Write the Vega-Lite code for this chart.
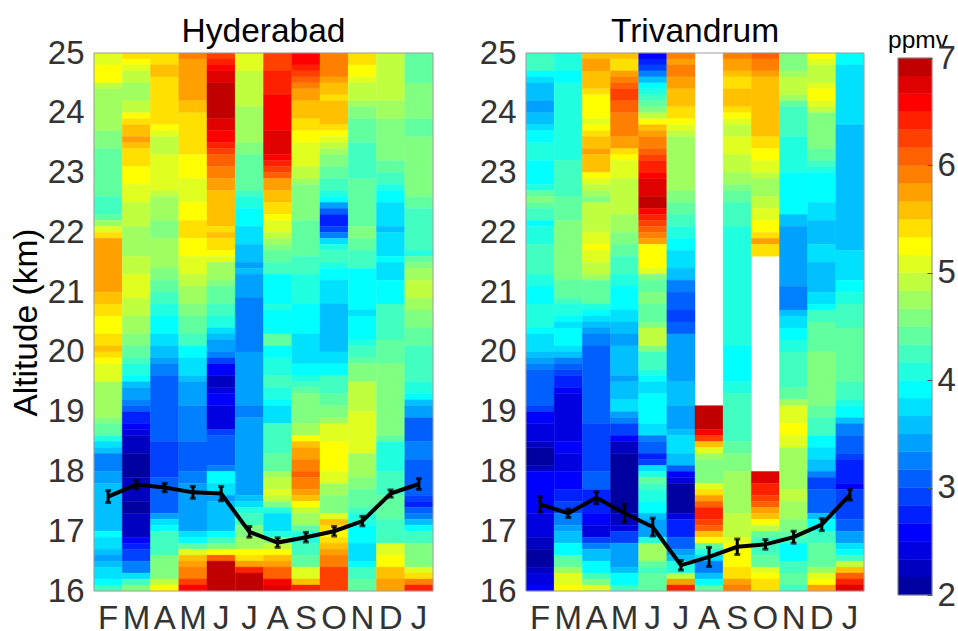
{"$schema":"https://vega.github.io/schema/vega-lite/v6.json","background":"white","padding":{"left":9,"top":14,"right":0,"bottom":0},"spacing":23,"config":{"view":{"stroke":null},"font":"Liberation Sans","title":{"font":"Liberation Sans","fontSize":33.5,"fontWeight":"normal","color":"#000000"},"axis":{"labelFont":"Liberation Sans","labelFontSize":33,"labelColor":"#333333","titleFont":"Liberation Sans","titleFontSize":33.5,"titleFontWeight":"normal","titleColor":"#000000"}},
"datasets":{
"frame":[{"a":16,"b":25}],
"hyd":[
{"m":1,"a":25,"b":24.8,"v":5.08},{"m":1,"a":24.8,"b":24.5,"v":5.25},{"m":1,"a":24.5,"b":24.4,"v":4.92},{"m":1,"a":24.4,"b":23.7,"v":4.75},{"m":1,"a":23.7,"b":23.4,"v":4.58},{"m":1,"a":23.4,"b":22.6,"v":4.42},{"m":1,"a":22.6,"b":22.3,"v":4.25},{"m":1,"a":22.3,"b":22.2,"v":4.42},{"m":1,"a":22.2,"b":22.1,"v":4.75},{"m":1,"a":22.1,"b":22,"v":5.08},{"m":1,"a":22,"b":21.9,"v":5.42},{"m":1,"a":21.9,"b":21,"v":5.75},{"m":1,"a":21,"b":20.8,"v":5.58},{"m":1,"a":20.8,"b":20.6,"v":5.42},{"m":1,"a":20.6,"b":20.3,"v":5.25},{"m":1,"a":20.3,"b":20.1,"v":5.42},{"m":1,"a":20.1,"b":20,"v":5.58},{"m":1,"a":20,"b":19.9,"v":5.42},{"m":1,"a":19.9,"b":19.8,"v":5.25},{"m":1,"a":19.8,"b":19.5,"v":5.08},{"m":1,"a":19.5,"b":18.9,"v":4.75},{"m":1,"a":18.9,"b":18.8,"v":4.58},{"m":1,"a":18.8,"b":18.6,"v":4.42},{"m":1,"a":18.6,"b":18.5,"v":4.08},{"m":1,"a":18.5,"b":18.4,"v":3.75},{"m":1,"a":18.4,"b":18.3,"v":3.58},{"m":1,"a":18.3,"b":18,"v":3.25},{"m":1,"a":18,"b":17.8,"v":3.42},{"m":1,"a":17.8,"b":17,"v":3.58},{"m":1,"a":17,"b":16.9,"v":3.92},{"m":1,"a":16.9,"b":16.7,"v":3.75},{"m":1,"a":16.7,"b":16.6,"v":3.58},{"m":1,"a":16.6,"b":16.5,"v":3.42},{"m":1,"a":16.5,"b":16.4,"v":3.58},{"m":1,"a":16.4,"b":16.2,"v":3.75},{"m":1,"a":16.2,"b":16.1,"v":3.92},{"m":1,"a":16.1,"b":16,"v":4.25},
{"m":2,"a":25,"b":24.9,"v":5.42},{"m":2,"a":24.9,"b":24.8,"v":5.25},{"m":2,"a":24.8,"b":24.7,"v":5.08},{"m":2,"a":24.7,"b":24.5,"v":4.92},{"m":2,"a":24.5,"b":24.2,"v":4.75},{"m":2,"a":24.2,"b":24,"v":4.92},{"m":2,"a":24,"b":23.9,"v":5.25},{"m":2,"a":23.9,"b":23.8,"v":5.42},{"m":2,"a":23.8,"b":23.6,"v":5.58},{"m":2,"a":23.6,"b":23.5,"v":5.75},{"m":2,"a":23.5,"b":23.4,"v":5.58},{"m":2,"a":23.4,"b":23.1,"v":5.42},{"m":2,"a":23.1,"b":22.8,"v":5.25},{"m":2,"a":22.8,"b":22.5,"v":5.08},{"m":2,"a":22.5,"b":22.1,"v":4.92},{"m":2,"a":22.1,"b":21.6,"v":4.75},{"m":2,"a":21.6,"b":21.3,"v":4.92},{"m":2,"a":21.3,"b":20.9,"v":5.08},{"m":2,"a":20.9,"b":20.6,"v":4.92},{"m":2,"a":20.6,"b":20.3,"v":4.75},{"m":2,"a":20.3,"b":20.1,"v":4.58},{"m":2,"a":20.1,"b":19.9,"v":4.42},{"m":2,"a":19.9,"b":19.8,"v":4.25},{"m":2,"a":19.8,"b":19.6,"v":4.08},{"m":2,"a":19.6,"b":19.5,"v":3.92},{"m":2,"a":19.5,"b":19.4,"v":3.58},{"m":2,"a":19.4,"b":19.2,"v":3.42},{"m":2,"a":19.2,"b":19.1,"v":3.25},{"m":2,"a":19.1,"b":19,"v":3.08},{"m":2,"a":19,"b":18.8,"v":2.75},{"m":2,"a":18.8,"b":18.7,"v":2.58},{"m":2,"a":18.7,"b":18.6,"v":2.42},{"m":2,"a":18.6,"b":18.3,"v":2.25},{"m":2,"a":18.3,"b":17.9,"v":2.08},{"m":2,"a":17.9,"b":17.5,"v":2.25},{"m":2,"a":17.5,"b":17.3,"v":2.08},{"m":2,"a":17.3,"b":16.9,"v":2.25},{"m":2,"a":16.9,"b":16.8,"v":2.58},{"m":2,"a":16.8,"b":16.7,"v":2.75},{"m":2,"a":16.7,"b":16.5,"v":2.92},{"m":2,"a":16.5,"b":16.3,"v":3.25},{"m":2,"a":16.3,"b":16.2,"v":3.75},{"m":2,"a":16.2,"b":16.1,"v":4.25},{"m":2,"a":16.1,"b":16,"v":4.58},
{"m":3,"a":25,"b":24.8,"v":5.42},{"m":3,"a":24.8,"b":24.6,"v":5.58},{"m":3,"a":24.6,"b":23.8,"v":5.42},{"m":3,"a":23.8,"b":23.7,"v":5.25},{"m":3,"a":23.7,"b":23.6,"v":5.08},{"m":3,"a":23.6,"b":23.3,"v":4.92},{"m":3,"a":23.3,"b":22.7,"v":5.08},{"m":3,"a":22.7,"b":22.6,"v":4.92},{"m":3,"a":22.6,"b":22.2,"v":4.75},{"m":3,"a":22.2,"b":21.9,"v":4.58},{"m":3,"a":21.9,"b":21.4,"v":4.75},{"m":3,"a":21.4,"b":21.2,"v":4.58},{"m":3,"a":21.2,"b":21,"v":4.42},{"m":3,"a":21,"b":20.8,"v":4.25},{"m":3,"a":20.8,"b":20.6,"v":4.08},{"m":3,"a":20.6,"b":20.3,"v":3.92},{"m":3,"a":20.3,"b":20.1,"v":3.75},{"m":3,"a":20.1,"b":19.9,"v":3.58},{"m":3,"a":19.9,"b":19.8,"v":3.42},{"m":3,"a":19.8,"b":19.6,"v":3.25},{"m":3,"a":19.6,"b":18.5,"v":3.08},{"m":3,"a":18.5,"b":17.9,"v":2.92},{"m":3,"a":17.9,"b":17.3,"v":3.08},{"m":3,"a":17.3,"b":17.2,"v":3.42},{"m":3,"a":17.2,"b":17.1,"v":3.75},{"m":3,"a":17.1,"b":17,"v":3.92},{"m":3,"a":17,"b":16.6,"v":4.25},{"m":3,"a":16.6,"b":16.2,"v":4.58},{"m":3,"a":16.2,"b":16.1,"v":4.92},{"m":3,"a":16.1,"b":16,"v":5.25},
{"m":4,"a":25,"b":24.9,"v":5.92},{"m":4,"a":24.9,"b":24.2,"v":5.75},{"m":4,"a":24.2,"b":24,"v":5.58},{"m":4,"a":24,"b":23.3,"v":5.42},{"m":4,"a":23.3,"b":22.9,"v":5.25},{"m":4,"a":22.9,"b":22.5,"v":5.08},{"m":4,"a":22.5,"b":22.2,"v":5.25},{"m":4,"a":22.2,"b":21.9,"v":5.42},{"m":4,"a":21.9,"b":21.6,"v":5.25},{"m":4,"a":21.6,"b":21.3,"v":5.08},{"m":4,"a":21.3,"b":21.1,"v":4.92},{"m":4,"a":21.1,"b":20.8,"v":4.75},{"m":4,"a":20.8,"b":20.6,"v":4.58},{"m":4,"a":20.6,"b":20.3,"v":4.42},{"m":4,"a":20.3,"b":20.1,"v":4.25},{"m":4,"a":20.1,"b":19.9,"v":3.92},{"m":4,"a":19.9,"b":19.6,"v":3.75},{"m":4,"a":19.6,"b":19.5,"v":3.58},{"m":4,"a":19.5,"b":19.1,"v":3.42},{"m":4,"a":19.1,"b":18.5,"v":3.25},{"m":4,"a":18.5,"b":18,"v":3.08},{"m":4,"a":18,"b":17.8,"v":3.25},{"m":4,"a":17.8,"b":17,"v":3.42},{"m":4,"a":17,"b":16.9,"v":3.75},{"m":4,"a":16.9,"b":16.8,"v":3.92},{"m":4,"a":16.8,"b":16.7,"v":4.42},{"m":4,"a":16.7,"b":16.6,"v":5.08},{"m":4,"a":16.6,"b":16.5,"v":5.58},{"m":4,"a":16.5,"b":16.4,"v":5.75},{"m":4,"a":16.4,"b":16.2,"v":5.92},{"m":4,"a":16.2,"b":16.1,"v":6.25},{"m":4,"a":16.1,"b":16,"v":6.58},
{"m":5,"a":25,"b":24.9,"v":6.25},{"m":5,"a":24.9,"b":24.8,"v":6.42},{"m":5,"a":24.8,"b":24.7,"v":6.58},{"m":5,"a":24.7,"b":24.5,"v":6.75},{"m":5,"a":24.5,"b":23.9,"v":6.92},{"m":5,"a":23.9,"b":23.7,"v":6.75},{"m":5,"a":23.7,"b":23.5,"v":6.58},{"m":5,"a":23.5,"b":23.4,"v":6.42},{"m":5,"a":23.4,"b":23.3,"v":6.25},{"m":5,"a":23.3,"b":23.1,"v":6.08},{"m":5,"a":23.1,"b":22.9,"v":5.92},{"m":5,"a":22.9,"b":22.7,"v":5.75},{"m":5,"a":22.7,"b":22.1,"v":5.58},{"m":5,"a":22.1,"b":22,"v":5.42},{"m":5,"a":22,"b":21.9,"v":5.58},{"m":5,"a":21.9,"b":21.7,"v":5.42},{"m":5,"a":21.7,"b":21.6,"v":5.25},{"m":5,"a":21.6,"b":21.5,"v":5.08},{"m":5,"a":21.5,"b":21.2,"v":4.75},{"m":5,"a":21.2,"b":21.1,"v":4.58},{"m":5,"a":21.1,"b":20.8,"v":4.42},{"m":5,"a":20.8,"b":20.6,"v":4.25},{"m":5,"a":20.6,"b":20.4,"v":4.08},{"m":5,"a":20.4,"b":20.3,"v":3.75},{"m":5,"a":20.3,"b":20.2,"v":3.58},{"m":5,"a":20.2,"b":20,"v":3.42},{"m":5,"a":20,"b":19.9,"v":3.25},{"m":5,"a":19.9,"b":19.8,"v":2.92},{"m":5,"a":19.8,"b":19.6,"v":2.58},{"m":5,"a":19.6,"b":19.4,"v":2.25},{"m":5,"a":19.4,"b":19.3,"v":2.42},{"m":5,"a":19.3,"b":19.1,"v":2.58},{"m":5,"a":19.1,"b":18.7,"v":2.42},{"m":5,"a":18.7,"b":18.6,"v":2.92},{"m":5,"a":18.6,"b":18.1,"v":3.08},{"m":5,"a":18.1,"b":18,"v":3.25},{"m":5,"a":18,"b":17.8,"v":3.92},{"m":5,"a":17.8,"b":17.6,"v":3.75},{"m":5,"a":17.6,"b":17.5,"v":3.42},{"m":5,"a":17.5,"b":17,"v":3.58},{"m":5,"a":17,"b":16.9,"v":3.92},{"m":5,"a":16.9,"b":16.8,"v":4.25},{"m":5,"a":16.8,"b":16.7,"v":4.58},{"m":5,"a":16.7,"b":16.6,"v":5.25},{"m":5,"a":16.6,"b":16.5,"v":6.08},{"m":5,"a":16.5,"b":16,"v":6.92},
{"m":6,"a":25,"b":24.7,"v":5.08},{"m":6,"a":24.7,"b":24.1,"v":4.92},{"m":6,"a":24.1,"b":23.5,"v":4.75},{"m":6,"a":23.5,"b":23.3,"v":4.58},{"m":6,"a":23.3,"b":22.7,"v":4.42},{"m":6,"a":22.7,"b":22.6,"v":4.25},{"m":6,"a":22.6,"b":22.4,"v":4.08},{"m":6,"a":22.4,"b":22.1,"v":3.92},{"m":6,"a":22.1,"b":21.8,"v":3.75},{"m":6,"a":21.8,"b":21.5,"v":3.58},{"m":6,"a":21.5,"b":21.4,"v":3.42},{"m":6,"a":21.4,"b":21.3,"v":3.58},{"m":6,"a":21.3,"b":20.9,"v":3.42},{"m":6,"a":20.9,"b":20,"v":3.25},{"m":6,"a":20,"b":19.1,"v":3.42},{"m":6,"a":19.1,"b":18.9,"v":3.25},{"m":6,"a":18.9,"b":17.6,"v":3.42},{"m":6,"a":17.6,"b":17.5,"v":3.58},{"m":6,"a":17.5,"b":17.4,"v":3.75},{"m":6,"a":17.4,"b":17.3,"v":4.08},{"m":6,"a":17.3,"b":17.1,"v":4.25},{"m":6,"a":17.1,"b":16.9,"v":4.58},{"m":6,"a":16.9,"b":16.7,"v":4.75},{"m":6,"a":16.7,"b":16.6,"v":5.25},{"m":6,"a":16.6,"b":16.5,"v":5.42},{"m":6,"a":16.5,"b":16.4,"v":5.75},{"m":6,"a":16.4,"b":16.3,"v":6.42},{"m":6,"a":16.3,"b":16,"v":6.92},
{"m":7,"a":25,"b":24.7,"v":6.25},{"m":7,"a":24.7,"b":24.3,"v":6.42},{"m":7,"a":24.3,"b":23.7,"v":6.58},{"m":7,"a":23.7,"b":23.3,"v":6.75},{"m":7,"a":23.3,"b":23.2,"v":6.58},{"m":7,"a":23.2,"b":23.1,"v":6.42},{"m":7,"a":23.1,"b":23,"v":6.25},{"m":7,"a":23,"b":22.9,"v":6.08},{"m":7,"a":22.9,"b":22.7,"v":5.75},{"m":7,"a":22.7,"b":22.5,"v":5.58},{"m":7,"a":22.5,"b":22.3,"v":5.42},{"m":7,"a":22.3,"b":22.2,"v":5.25},{"m":7,"a":22.2,"b":22,"v":5.08},{"m":7,"a":22,"b":21.9,"v":4.92},{"m":7,"a":21.9,"b":21.8,"v":4.75},{"m":7,"a":21.8,"b":21.7,"v":4.58},{"m":7,"a":21.7,"b":21.5,"v":4.42},{"m":7,"a":21.5,"b":21.3,"v":4.25},{"m":7,"a":21.3,"b":20.8,"v":3.92},{"m":7,"a":20.8,"b":20.7,"v":4.08},{"m":7,"a":20.7,"b":20.3,"v":3.92},{"m":7,"a":20.3,"b":20.1,"v":4.42},{"m":7,"a":20.1,"b":19.9,"v":3.92},{"m":7,"a":19.9,"b":19.6,"v":4.08},{"m":7,"a":19.6,"b":19.4,"v":4.25},{"m":7,"a":19.4,"b":19.2,"v":4.08},{"m":7,"a":19.2,"b":19.1,"v":3.92},{"m":7,"a":19.1,"b":18.8,"v":3.75},{"m":7,"a":18.8,"b":18.3,"v":4.25},{"m":7,"a":18.3,"b":18,"v":4.42},{"m":7,"a":18,"b":17.9,"v":4.75},{"m":7,"a":17.9,"b":17.7,"v":4.92},{"m":7,"a":17.7,"b":17.6,"v":5.08},{"m":7,"a":17.6,"b":17.5,"v":4.92},{"m":7,"a":17.5,"b":17.4,"v":4.58},{"m":7,"a":17.4,"b":17.3,"v":4.08},{"m":7,"a":17.3,"b":17,"v":3.75},{"m":7,"a":17,"b":16.9,"v":4.08},{"m":7,"a":16.9,"b":16.8,"v":4.58},{"m":7,"a":16.8,"b":16.7,"v":4.92},{"m":7,"a":16.7,"b":16.6,"v":5.25},{"m":7,"a":16.6,"b":16.5,"v":5.58},{"m":7,"a":16.5,"b":16.4,"v":5.75},{"m":7,"a":16.4,"b":16.2,"v":6.08},{"m":7,"a":16.2,"b":16.1,"v":6.58},{"m":7,"a":16.1,"b":16,"v":6.75},
{"m":8,"a":25,"b":24.8,"v":6.58},{"m":8,"a":24.8,"b":24.7,"v":6.42},{"m":8,"a":24.7,"b":24.6,"v":6.25},{"m":8,"a":24.6,"b":24.5,"v":6.08},{"m":8,"a":24.5,"b":24.4,"v":5.92},{"m":8,"a":24.4,"b":24.2,"v":5.75},{"m":8,"a":24.2,"b":23.9,"v":5.58},{"m":8,"a":23.9,"b":23.7,"v":5.42},{"m":8,"a":23.7,"b":23.5,"v":5.25},{"m":8,"a":23.5,"b":23.1,"v":5.08},{"m":8,"a":23.1,"b":22.9,"v":4.92},{"m":8,"a":22.9,"b":22.8,"v":4.75},{"m":8,"a":22.8,"b":22.2,"v":4.58},{"m":8,"a":22.2,"b":21.6,"v":4.42},{"m":8,"a":21.6,"b":21.3,"v":4.25},{"m":8,"a":21.3,"b":20.8,"v":4.08},{"m":8,"a":20.8,"b":20.3,"v":3.92},{"m":8,"a":20.3,"b":19.8,"v":3.75},{"m":8,"a":19.8,"b":19.6,"v":3.92},{"m":8,"a":19.6,"b":19.5,"v":4.08},{"m":8,"a":19.5,"b":19.4,"v":4.25},{"m":8,"a":19.4,"b":19.3,"v":4.42},{"m":8,"a":19.3,"b":18.8,"v":4.58},{"m":8,"a":18.8,"b":18.6,"v":4.75},{"m":8,"a":18.6,"b":18.5,"v":5.25},{"m":8,"a":18.5,"b":18.4,"v":5.58},{"m":8,"a":18.4,"b":18.2,"v":5.75},{"m":8,"a":18.2,"b":18,"v":5.92},{"m":8,"a":18,"b":17.9,"v":6.08},{"m":8,"a":17.9,"b":17.7,"v":5.92},{"m":8,"a":17.7,"b":17.6,"v":5.75},{"m":8,"a":17.6,"b":17.5,"v":5.58},{"m":8,"a":17.5,"b":17.4,"v":5.25},{"m":8,"a":17.4,"b":17.3,"v":4.92},{"m":8,"a":17.3,"b":17.1,"v":4.75},{"m":8,"a":17.1,"b":17,"v":4.42},{"m":8,"a":17,"b":16.8,"v":4.08},{"m":8,"a":16.8,"b":16.6,"v":4.25},{"m":8,"a":16.6,"b":16.4,"v":4.42},{"m":8,"a":16.4,"b":16.2,"v":5.08},{"m":8,"a":16.2,"b":16.1,"v":5.58},{"m":8,"a":16.1,"b":16,"v":6.42},
{"m":9,"a":25,"b":24.6,"v":5.92},{"m":9,"a":24.6,"b":24.5,"v":5.75},{"m":9,"a":24.5,"b":24.3,"v":5.58},{"m":9,"a":24.3,"b":24.2,"v":5.42},{"m":9,"a":24.2,"b":23.8,"v":5.58},{"m":9,"a":23.8,"b":23.7,"v":5.42},{"m":9,"a":23.7,"b":23.6,"v":5.25},{"m":9,"a":23.6,"b":23.5,"v":5.08},{"m":9,"a":23.5,"b":23.4,"v":4.92},{"m":9,"a":23.4,"b":23.3,"v":4.75},{"m":9,"a":23.3,"b":23.1,"v":4.58},{"m":9,"a":23.1,"b":22.9,"v":4.42},{"m":9,"a":22.9,"b":22.7,"v":4.25},{"m":9,"a":22.7,"b":22.6,"v":4.08},{"m":9,"a":22.6,"b":22.5,"v":3.92},{"m":9,"a":22.5,"b":22.4,"v":3.42},{"m":9,"a":22.4,"b":22.3,"v":3.08},{"m":9,"a":22.3,"b":22.1,"v":2.75},{"m":9,"a":22.1,"b":22,"v":2.92},{"m":9,"a":22,"b":21.9,"v":3.25},{"m":9,"a":21.9,"b":21.8,"v":3.75},{"m":9,"a":21.8,"b":21.7,"v":4.08},{"m":9,"a":21.7,"b":21.5,"v":4.25},{"m":9,"a":21.5,"b":21.4,"v":4.08},{"m":9,"a":21.4,"b":21.2,"v":3.92},{"m":9,"a":21.2,"b":20.8,"v":3.75},{"m":9,"a":20.8,"b":20,"v":3.58},{"m":9,"a":20,"b":19.8,"v":3.75},{"m":9,"a":19.8,"b":19.6,"v":3.92},{"m":9,"a":19.6,"b":19.3,"v":4.25},{"m":9,"a":19.3,"b":19.1,"v":4.42},{"m":9,"a":19.1,"b":18.9,"v":4.58},{"m":9,"a":18.9,"b":18.8,"v":4.75},{"m":9,"a":18.8,"b":18.5,"v":5.08},{"m":9,"a":18.5,"b":18,"v":5.25},{"m":9,"a":18,"b":17.8,"v":5.08},{"m":9,"a":17.8,"b":17.6,"v":4.75},{"m":9,"a":17.6,"b":17.3,"v":4.58},{"m":9,"a":17.3,"b":17.2,"v":5.08},{"m":9,"a":17.2,"b":17.1,"v":5.58},{"m":9,"a":17.1,"b":17,"v":5.42},{"m":9,"a":17,"b":16.9,"v":5.25},{"m":9,"a":16.9,"b":16.8,"v":5.42},{"m":9,"a":16.8,"b":16.7,"v":5.58},{"m":9,"a":16.7,"b":16.6,"v":5.75},{"m":9,"a":16.6,"b":16.4,"v":5.92},{"m":9,"a":16.4,"b":16,"v":6.25},
{"m":10,"a":25,"b":24.8,"v":5.42},{"m":10,"a":24.8,"b":24.6,"v":5.25},{"m":10,"a":24.6,"b":24.5,"v":5.08},{"m":10,"a":24.5,"b":24.2,"v":4.92},{"m":10,"a":24.2,"b":24.1,"v":4.75},{"m":10,"a":24.1,"b":23.9,"v":4.58},{"m":10,"a":23.9,"b":23.5,"v":4.42},{"m":10,"a":23.5,"b":22.9,"v":4.25},{"m":10,"a":22.9,"b":22.1,"v":4.42},{"m":10,"a":22.1,"b":21.9,"v":4.58},{"m":10,"a":21.9,"b":21.7,"v":4.42},{"m":10,"a":21.7,"b":21.4,"v":4.25},{"m":10,"a":21.4,"b":20.7,"v":3.92},{"m":10,"a":20.7,"b":20.6,"v":3.75},{"m":10,"a":20.6,"b":20.2,"v":3.92},{"m":10,"a":20.2,"b":20.1,"v":4.08},{"m":10,"a":20.1,"b":19.9,"v":4.25},{"m":10,"a":19.9,"b":19.8,"v":4.42},{"m":10,"a":19.8,"b":19.5,"v":4.58},{"m":10,"a":19.5,"b":19,"v":4.92},{"m":10,"a":19,"b":18.3,"v":5.08},{"m":10,"a":18.3,"b":17.9,"v":4.75},{"m":10,"a":17.9,"b":17.7,"v":4.58},{"m":10,"a":17.7,"b":17.4,"v":4.42},{"m":10,"a":17.4,"b":17.3,"v":4.25},{"m":10,"a":17.3,"b":17.1,"v":4.08},{"m":10,"a":17.1,"b":16.8,"v":3.92},{"m":10,"a":16.8,"b":16.5,"v":3.75},{"m":10,"a":16.5,"b":16.4,"v":3.92},{"m":10,"a":16.4,"b":16.2,"v":4.25},{"m":10,"a":16.2,"b":16,"v":4.42},
{"m":11,"a":25,"b":24.2,"v":4.92},{"m":11,"a":24.2,"b":23.9,"v":4.75},{"m":11,"a":23.9,"b":23.2,"v":4.58},{"m":11,"a":23.2,"b":23,"v":4.42},{"m":11,"a":23,"b":22.8,"v":4.25},{"m":11,"a":22.8,"b":22.7,"v":4.08},{"m":11,"a":22.7,"b":22.5,"v":3.92},{"m":11,"a":22.5,"b":22.1,"v":3.75},{"m":11,"a":22.1,"b":22,"v":3.58},{"m":11,"a":22,"b":21.6,"v":3.75},{"m":11,"a":21.6,"b":21.5,"v":3.92},{"m":11,"a":21.5,"b":21.2,"v":3.75},{"m":11,"a":21.2,"b":20.8,"v":3.92},{"m":11,"a":20.8,"b":20.2,"v":4.25},{"m":11,"a":20.2,"b":19.8,"v":4.42},{"m":11,"a":19.8,"b":18.6,"v":4.58},{"m":11,"a":18.6,"b":18.5,"v":4.42},{"m":11,"a":18.5,"b":18,"v":4.08},{"m":11,"a":18,"b":17.6,"v":4.25},{"m":11,"a":17.6,"b":17.2,"v":4.42},{"m":11,"a":17.2,"b":16.8,"v":4.25},{"m":11,"a":16.8,"b":16.6,"v":5.08},{"m":11,"a":16.6,"b":16.4,"v":5.25},{"m":11,"a":16.4,"b":16.2,"v":5.58},{"m":11,"a":16.2,"b":16,"v":5.75},
{"m":12,"a":25,"b":24.5,"v":4.42},{"m":12,"a":24.5,"b":23.9,"v":4.58},{"m":12,"a":23.9,"b":23.6,"v":4.42},{"m":12,"a":23.6,"b":22.6,"v":4.58},{"m":12,"a":22.6,"b":22.4,"v":4.42},{"m":12,"a":22.4,"b":21.7,"v":4.25},{"m":12,"a":21.7,"b":21.6,"v":4.08},{"m":12,"a":21.6,"b":21.5,"v":4.42},{"m":12,"a":21.5,"b":21.4,"v":4.58},{"m":12,"a":21.4,"b":21.2,"v":4.75},{"m":12,"a":21.2,"b":20.9,"v":4.92},{"m":12,"a":20.9,"b":20.7,"v":4.75},{"m":12,"a":20.7,"b":20.4,"v":4.58},{"m":12,"a":20.4,"b":20.1,"v":4.42},{"m":12,"a":20.1,"b":19.5,"v":4.25},{"m":12,"a":19.5,"b":19.3,"v":4.08},{"m":12,"a":19.3,"b":19.2,"v":3.92},{"m":12,"a":19.2,"b":19.1,"v":3.58},{"m":12,"a":19.1,"b":18.9,"v":3.42},{"m":12,"a":18.9,"b":18.5,"v":3.08},{"m":12,"a":18.5,"b":18.2,"v":3.25},{"m":12,"a":18.2,"b":17.6,"v":3.08},{"m":12,"a":17.6,"b":17.5,"v":2.92},{"m":12,"a":17.5,"b":17.4,"v":2.75},{"m":12,"a":17.4,"b":17.3,"v":3.08},{"m":12,"a":17.3,"b":17.2,"v":3.25},{"m":12,"a":17.2,"b":17.1,"v":3.58},{"m":12,"a":17.1,"b":17,"v":3.92},{"m":12,"a":17,"b":16.8,"v":4.25},{"m":12,"a":16.8,"b":16.4,"v":4.58},{"m":12,"a":16.4,"b":16.3,"v":5.08},{"m":12,"a":16.3,"b":16.2,"v":5.42},{"m":12,"a":16.2,"b":16.1,"v":5.92},{"m":12,"a":16.1,"b":16,"v":6.42}],
"tvm":[
{"m":1,"a":25,"b":24.7,"v":4.25},{"m":1,"a":24.7,"b":24.6,"v":3.92},{"m":1,"a":24.6,"b":24.5,"v":3.75},{"m":1,"a":24.5,"b":24.2,"v":3.58},{"m":1,"a":24.2,"b":24,"v":3.42},{"m":1,"a":24,"b":23.8,"v":3.58},{"m":1,"a":23.8,"b":23.7,"v":3.75},{"m":1,"a":23.7,"b":23.5,"v":3.92},{"m":1,"a":23.5,"b":23.2,"v":4.08},{"m":1,"a":23.2,"b":22.8,"v":3.92},{"m":1,"a":22.8,"b":22.7,"v":4.08},{"m":1,"a":22.7,"b":22.6,"v":4.42},{"m":1,"a":22.6,"b":22.5,"v":4.58},{"m":1,"a":22.5,"b":22.4,"v":4.42},{"m":1,"a":22.4,"b":22.2,"v":4.25},{"m":1,"a":22.2,"b":22.1,"v":3.92},{"m":1,"a":22.1,"b":21.8,"v":4.08},{"m":1,"a":21.8,"b":21.3,"v":4.25},{"m":1,"a":21.3,"b":21.1,"v":4.08},{"m":1,"a":21.1,"b":20.8,"v":3.92},{"m":1,"a":20.8,"b":20.4,"v":4.08},{"m":1,"a":20.4,"b":20.3,"v":3.92},{"m":1,"a":20.3,"b":20,"v":3.75},{"m":1,"a":20,"b":19.9,"v":3.58},{"m":1,"a":19.9,"b":19.8,"v":3.42},{"m":1,"a":19.8,"b":19.7,"v":3.25},{"m":1,"a":19.7,"b":19.1,"v":3.08},{"m":1,"a":19.1,"b":19,"v":2.92},{"m":1,"a":19,"b":18.8,"v":2.58},{"m":1,"a":18.8,"b":18.5,"v":2.42},{"m":1,"a":18.5,"b":18.4,"v":2.25},{"m":1,"a":18.4,"b":18.1,"v":2.08},{"m":1,"a":18.1,"b":18,"v":2.25},{"m":1,"a":18,"b":17.3,"v":2.58},{"m":1,"a":17.3,"b":16.9,"v":2.42},{"m":1,"a":16.9,"b":16.7,"v":2.25},{"m":1,"a":16.7,"b":16.4,"v":2.08},{"m":1,"a":16.4,"b":16.3,"v":2.25},{"m":1,"a":16.3,"b":16.1,"v":2.42},{"m":1,"a":16.1,"b":16,"v":2.58},
{"m":2,"a":25,"b":24.7,"v":4.08},{"m":2,"a":24.7,"b":24.5,"v":3.92},{"m":2,"a":24.5,"b":23.2,"v":4.08},{"m":2,"a":23.2,"b":22.6,"v":4.25},{"m":2,"a":22.6,"b":22.2,"v":4.42},{"m":2,"a":22.2,"b":21.2,"v":4.58},{"m":2,"a":21.2,"b":20.9,"v":4.42},{"m":2,"a":20.9,"b":20.8,"v":4.25},{"m":2,"a":20.8,"b":20.6,"v":4.08},{"m":2,"a":20.6,"b":20.5,"v":3.92},{"m":2,"a":20.5,"b":20.4,"v":3.75},{"m":2,"a":20.4,"b":20.1,"v":3.92},{"m":2,"a":20.1,"b":20,"v":3.75},{"m":2,"a":20,"b":19.9,"v":3.58},{"m":2,"a":19.9,"b":19.8,"v":3.25},{"m":2,"a":19.8,"b":19.7,"v":3.08},{"m":2,"a":19.7,"b":19.6,"v":2.92},{"m":2,"a":19.6,"b":19.4,"v":2.75},{"m":2,"a":19.4,"b":19.3,"v":2.58},{"m":2,"a":19.3,"b":18.5,"v":2.42},{"m":2,"a":18.5,"b":18.3,"v":2.58},{"m":2,"a":18.3,"b":18,"v":2.42},{"m":2,"a":18,"b":17.7,"v":2.58},{"m":2,"a":17.7,"b":17.5,"v":2.75},{"m":2,"a":17.5,"b":17.3,"v":2.92},{"m":2,"a":17.3,"b":17.1,"v":3.25},{"m":2,"a":17.1,"b":17,"v":3.42},{"m":2,"a":17,"b":16.8,"v":3.58},{"m":2,"a":16.8,"b":16.6,"v":3.92},{"m":2,"a":16.6,"b":16.4,"v":4.42},{"m":2,"a":16.4,"b":16.3,"v":4.75},{"m":2,"a":16.3,"b":16.1,"v":5.08},{"m":2,"a":16.1,"b":16,"v":5.25},
{"m":3,"a":25,"b":24.9,"v":5.58},{"m":3,"a":24.9,"b":24.7,"v":5.75},{"m":3,"a":24.7,"b":24.4,"v":5.58},{"m":3,"a":24.4,"b":24.3,"v":5.42},{"m":3,"a":24.3,"b":23.9,"v":5.25},{"m":3,"a":23.9,"b":23.8,"v":5.08},{"m":3,"a":23.8,"b":23.7,"v":5.25},{"m":3,"a":23.7,"b":23.6,"v":5.42},{"m":3,"a":23.6,"b":23.4,"v":5.58},{"m":3,"a":23.4,"b":23.3,"v":5.75},{"m":3,"a":23.3,"b":23,"v":5.58},{"m":3,"a":23,"b":22.9,"v":5.25},{"m":3,"a":22.9,"b":22.8,"v":5.08},{"m":3,"a":22.8,"b":22.7,"v":4.92},{"m":3,"a":22.7,"b":22.6,"v":4.75},{"m":3,"a":22.6,"b":22.5,"v":4.58},{"m":3,"a":22.5,"b":22,"v":4.92},{"m":3,"a":22,"b":21.8,"v":5.08},{"m":3,"a":21.8,"b":21.7,"v":5.25},{"m":3,"a":21.7,"b":21.5,"v":5.08},{"m":3,"a":21.5,"b":21.3,"v":4.92},{"m":3,"a":21.3,"b":21.2,"v":4.75},{"m":3,"a":21.2,"b":20.8,"v":4.42},{"m":3,"a":20.8,"b":20.7,"v":4.08},{"m":3,"a":20.7,"b":20.6,"v":3.92},{"m":3,"a":20.6,"b":20.5,"v":3.75},{"m":3,"a":20.5,"b":20.4,"v":3.58},{"m":3,"a":20.4,"b":20.3,"v":3.42},{"m":3,"a":20.3,"b":20.1,"v":3.25},{"m":3,"a":20.1,"b":18.8,"v":3.08},{"m":3,"a":18.8,"b":18,"v":2.92},{"m":3,"a":18,"b":17.7,"v":3.08},{"m":3,"a":17.7,"b":17.3,"v":2.75},{"m":3,"a":17.3,"b":17.1,"v":2.58},{"m":3,"a":17.1,"b":16.9,"v":2.42},{"m":3,"a":16.9,"b":16.8,"v":2.92},{"m":3,"a":16.8,"b":16.7,"v":3.25},{"m":3,"a":16.7,"b":16.5,"v":3.58},{"m":3,"a":16.5,"b":16.3,"v":3.92},{"m":3,"a":16.3,"b":16.2,"v":4.25},{"m":3,"a":16.2,"b":16.1,"v":4.58},{"m":3,"a":16.1,"b":16,"v":5.08},
{"m":4,"a":25,"b":24.9,"v":5.58},{"m":4,"a":24.9,"b":24.7,"v":5.42},{"m":4,"a":24.7,"b":24.6,"v":5.75},{"m":4,"a":24.6,"b":24.5,"v":5.92},{"m":4,"a":24.5,"b":24.4,"v":6.08},{"m":4,"a":24.4,"b":24.2,"v":6.25},{"m":4,"a":24.2,"b":24,"v":6.08},{"m":4,"a":24,"b":23.6,"v":5.92},{"m":4,"a":23.6,"b":23.4,"v":5.75},{"m":4,"a":23.4,"b":23.3,"v":5.42},{"m":4,"a":23.3,"b":23.2,"v":5.25},{"m":4,"a":23.2,"b":22.9,"v":5.08},{"m":4,"a":22.9,"b":22.3,"v":4.92},{"m":4,"a":22.3,"b":22,"v":4.75},{"m":4,"a":22,"b":21.8,"v":4.58},{"m":4,"a":21.8,"b":21.6,"v":4.42},{"m":4,"a":21.6,"b":21.3,"v":4.25},{"m":4,"a":21.3,"b":21.1,"v":4.08},{"m":4,"a":21.1,"b":20.7,"v":3.92},{"m":4,"a":20.7,"b":20.5,"v":3.75},{"m":4,"a":20.5,"b":20.3,"v":3.58},{"m":4,"a":20.3,"b":20.1,"v":3.42},{"m":4,"a":20.1,"b":19.6,"v":3.58},{"m":4,"a":19.6,"b":19.5,"v":3.42},{"m":4,"a":19.5,"b":19.2,"v":3.58},{"m":4,"a":19.2,"b":19,"v":3.75},{"m":4,"a":19,"b":18.9,"v":3.42},{"m":4,"a":18.9,"b":18.8,"v":3.25},{"m":4,"a":18.8,"b":18.6,"v":2.92},{"m":4,"a":18.6,"b":18.5,"v":2.58},{"m":4,"a":18.5,"b":18.3,"v":2.25},{"m":4,"a":18.3,"b":17.3,"v":2.08},{"m":4,"a":17.3,"b":17.1,"v":2.25},{"m":4,"a":17.1,"b":17,"v":2.42},{"m":4,"a":17,"b":16.8,"v":2.92},{"m":4,"a":16.8,"b":16.4,"v":3.42},{"m":4,"a":16.4,"b":16.3,"v":3.58},{"m":4,"a":16.3,"b":16.1,"v":3.92},{"m":4,"a":16.1,"b":16,"v":4.25},
{"m":5,"a":25,"b":24.9,"v":2.58},{"m":5,"a":24.9,"b":24.8,"v":2.75},{"m":5,"a":24.8,"b":24.7,"v":2.92},{"m":5,"a":24.7,"b":24.6,"v":3.25},{"m":5,"a":24.6,"b":24.5,"v":3.58},{"m":5,"a":24.5,"b":24.4,"v":3.92},{"m":5,"a":24.4,"b":24.3,"v":4.08},{"m":5,"a":24.3,"b":24.2,"v":4.25},{"m":5,"a":24.2,"b":24.1,"v":4.42},{"m":5,"a":24.1,"b":24,"v":4.58},{"m":5,"a":24,"b":23.9,"v":4.92},{"m":5,"a":23.9,"b":23.8,"v":5.25},{"m":5,"a":23.8,"b":23.7,"v":5.58},{"m":5,"a":23.7,"b":23.6,"v":5.75},{"m":5,"a":23.6,"b":23.4,"v":5.92},{"m":5,"a":23.4,"b":23.3,"v":6.08},{"m":5,"a":23.3,"b":23.2,"v":6.25},{"m":5,"a":23.2,"b":23,"v":6.42},{"m":5,"a":23,"b":22.9,"v":6.58},{"m":5,"a":22.9,"b":22.6,"v":6.75},{"m":5,"a":22.6,"b":22.4,"v":6.92},{"m":5,"a":22.4,"b":22.3,"v":6.58},{"m":5,"a":22.3,"b":22.2,"v":6.42},{"m":5,"a":22.2,"b":22.1,"v":6.25},{"m":5,"a":22.1,"b":22,"v":6.08},{"m":5,"a":22,"b":21.9,"v":5.92},{"m":5,"a":21.9,"b":21.8,"v":5.75},{"m":5,"a":21.8,"b":21.4,"v":5.25},{"m":5,"a":21.4,"b":21.3,"v":5.08},{"m":5,"a":21.3,"b":21.2,"v":4.58},{"m":5,"a":21.2,"b":21,"v":4.42},{"m":5,"a":21,"b":20.8,"v":4.58},{"m":5,"a":20.8,"b":20.5,"v":4.42},{"m":5,"a":20.5,"b":20.4,"v":4.58},{"m":5,"a":20.4,"b":20.1,"v":4.92},{"m":5,"a":20.1,"b":20,"v":4.58},{"m":5,"a":20,"b":19.7,"v":4.25},{"m":5,"a":19.7,"b":19.6,"v":4.08},{"m":5,"a":19.6,"b":19.5,"v":3.92},{"m":5,"a":19.5,"b":19.3,"v":3.75},{"m":5,"a":19.3,"b":18.8,"v":3.92},{"m":5,"a":18.8,"b":18.6,"v":3.75},{"m":5,"a":18.6,"b":18.5,"v":3.25},{"m":5,"a":18.5,"b":18.3,"v":3.08},{"m":5,"a":18.3,"b":18.2,"v":2.75},{"m":5,"a":18.2,"b":18.1,"v":2.92},{"m":5,"a":18.1,"b":18,"v":3.75},{"m":5,"a":18,"b":17.9,"v":4.08},{"m":5,"a":17.9,"b":17.8,"v":4.42},{"m":5,"a":17.8,"b":17.7,"v":4.25},{"m":5,"a":17.7,"b":17.5,"v":4.08},{"m":5,"a":17.5,"b":17.3,"v":3.92},{"m":5,"a":17.3,"b":17.2,"v":3.58},{"m":5,"a":17.2,"b":16.9,"v":3.42},{"m":5,"a":16.9,"b":16.8,"v":4.08},{"m":5,"a":16.8,"b":16.5,"v":4.75},{"m":5,"a":16.5,"b":16.4,"v":4.42},{"m":5,"a":16.4,"b":16.3,"v":4.25},{"m":5,"a":16.3,"b":16,"v":4.42},
{"m":6,"a":25,"b":24.9,"v":5.92},{"m":6,"a":24.9,"b":24.8,"v":5.75},{"m":6,"a":24.8,"b":24.6,"v":5.92},{"m":6,"a":24.6,"b":24.4,"v":5.75},{"m":6,"a":24.4,"b":24.1,"v":5.58},{"m":6,"a":24.1,"b":23.9,"v":5.42},{"m":6,"a":23.9,"b":23.8,"v":5.25},{"m":6,"a":23.8,"b":23.7,"v":5.08},{"m":6,"a":23.7,"b":23.6,"v":4.92},{"m":6,"a":23.6,"b":22.7,"v":4.75},{"m":6,"a":22.7,"b":22.5,"v":4.58},{"m":6,"a":22.5,"b":22.3,"v":4.42},{"m":6,"a":22.3,"b":22.1,"v":4.25},{"m":6,"a":22.1,"b":21.9,"v":4.08},{"m":6,"a":21.9,"b":21.7,"v":3.92},{"m":6,"a":21.7,"b":21.4,"v":3.75},{"m":6,"a":21.4,"b":21.2,"v":3.58},{"m":6,"a":21.2,"b":21,"v":3.25},{"m":6,"a":21,"b":20.7,"v":3.08},{"m":6,"a":20.7,"b":20.5,"v":2.92},{"m":6,"a":20.5,"b":20.3,"v":3.08},{"m":6,"a":20.3,"b":19.5,"v":3.42},{"m":6,"a":19.5,"b":19.1,"v":3.58},{"m":6,"a":19.1,"b":18.7,"v":3.42},{"m":6,"a":18.7,"b":18.6,"v":3.58},{"m":6,"a":18.6,"b":18.3,"v":3.75},{"m":6,"a":18.3,"b":18.1,"v":3.58},{"m":6,"a":18.1,"b":18,"v":3.08},{"m":6,"a":18,"b":17.9,"v":2.58},{"m":6,"a":17.9,"b":17.8,"v":2.42},{"m":6,"a":17.8,"b":17.3,"v":2.08},{"m":6,"a":17.3,"b":17.2,"v":2.42},{"m":6,"a":17.2,"b":16.9,"v":2.75},{"m":6,"a":16.9,"b":16.7,"v":3.08},{"m":6,"a":16.7,"b":16.6,"v":3.42},{"m":6,"a":16.6,"b":16.5,"v":3.58},{"m":6,"a":16.5,"b":16.3,"v":4.08},{"m":6,"a":16.3,"b":16.2,"v":4.92},{"m":6,"a":16.2,"b":16.1,"v":5.75},{"m":6,"a":16.1,"b":16,"v":6.42},
{"m":7,"a":19.1,"b":18.7,"v":6.92},{"m":7,"a":18.7,"b":18.6,"v":6.58},{"m":7,"a":18.6,"b":18.5,"v":6.25},{"m":7,"a":18.5,"b":18.4,"v":5.58},{"m":7,"a":18.4,"b":18.3,"v":5.08},{"m":7,"a":18.3,"b":18.2,"v":4.75},{"m":7,"a":18.2,"b":17.8,"v":4.58},{"m":7,"a":17.8,"b":17.7,"v":5.08},{"m":7,"a":17.7,"b":17.6,"v":5.42},{"m":7,"a":17.6,"b":17.5,"v":5.75},{"m":7,"a":17.5,"b":17.4,"v":6.08},{"m":7,"a":17.4,"b":17.2,"v":6.42},{"m":7,"a":17.2,"b":17.1,"v":6.25},{"m":7,"a":17.1,"b":17,"v":6.08},{"m":7,"a":17,"b":16.9,"v":5.58},{"m":7,"a":16.9,"b":16.8,"v":5.25},{"m":7,"a":16.8,"b":16.7,"v":4.42},{"m":7,"a":16.7,"b":16.6,"v":4.08},{"m":7,"a":16.6,"b":16.5,"v":3.75},{"m":7,"a":16.5,"b":16.3,"v":3.25},{"m":7,"a":16.3,"b":16.2,"v":3.58},{"m":7,"a":16.2,"b":16.1,"v":3.92},{"m":7,"a":16.1,"b":16,"v":4.42},
{"m":8,"a":25,"b":24.9,"v":5.92},{"m":8,"a":24.9,"b":24.7,"v":5.75},{"m":8,"a":24.7,"b":24.6,"v":5.58},{"m":8,"a":24.6,"b":24.4,"v":5.42},{"m":8,"a":24.4,"b":24.1,"v":5.58},{"m":8,"a":24.1,"b":24,"v":5.42},{"m":8,"a":24,"b":23.9,"v":5.25},{"m":8,"a":23.9,"b":23.8,"v":5.08},{"m":8,"a":23.8,"b":23.6,"v":4.92},{"m":8,"a":23.6,"b":23.3,"v":5.08},{"m":8,"a":23.3,"b":23,"v":4.92},{"m":8,"a":23,"b":22.8,"v":4.75},{"m":8,"a":22.8,"b":22.7,"v":4.58},{"m":8,"a":22.7,"b":22.5,"v":4.42},{"m":8,"a":22.5,"b":22.1,"v":4.25},{"m":8,"a":22.1,"b":20.1,"v":4.08},{"m":8,"a":20.1,"b":19.5,"v":3.92},{"m":8,"a":19.5,"b":19.3,"v":4.08},{"m":8,"a":19.3,"b":18.5,"v":4.25},{"m":8,"a":18.5,"b":18.3,"v":4.42},{"m":8,"a":18.3,"b":18,"v":4.58},{"m":8,"a":18,"b":17.3,"v":4.75},{"m":8,"a":17.3,"b":16.9,"v":4.92},{"m":8,"a":16.9,"b":16.8,"v":5.08},{"m":8,"a":16.8,"b":16.4,"v":5.25},{"m":8,"a":16.4,"b":16.2,"v":5.42},{"m":8,"a":16.2,"b":16.1,"v":5.75},{"m":8,"a":16.1,"b":16,"v":5.92},
{"m":9,"a":25,"b":24.9,"v":6.08},{"m":9,"a":24.9,"b":24.7,"v":5.92},{"m":9,"a":24.7,"b":24.6,"v":5.75},{"m":9,"a":24.6,"b":23.6,"v":5.58},{"m":9,"a":23.6,"b":23.4,"v":5.42},{"m":9,"a":23.4,"b":23.2,"v":5.25},{"m":9,"a":23.2,"b":23,"v":5.08},{"m":9,"a":23,"b":22.9,"v":4.92},{"m":9,"a":22.9,"b":22.6,"v":4.75},{"m":9,"a":22.6,"b":22.4,"v":4.92},{"m":9,"a":22.4,"b":22.2,"v":5.08},{"m":9,"a":22.2,"b":22,"v":5.25},{"m":9,"a":22,"b":21.9,"v":5.42},{"m":9,"a":21.9,"b":21.8,"v":5.75},{"m":9,"a":21.8,"b":21.6,"v":5.42},
{"m":9,"a":18,"b":17.8,"v":6.75},{"m":9,"a":17.8,"b":17.6,"v":6.42},{"m":9,"a":17.6,"b":17.5,"v":6.25},{"m":9,"a":17.5,"b":17.4,"v":6.08},{"m":9,"a":17.4,"b":17.3,"v":5.75},{"m":9,"a":17.3,"b":17.2,"v":5.58},{"m":9,"a":17.2,"b":17.1,"v":5.25},{"m":9,"a":17.1,"b":17,"v":4.92},{"m":9,"a":17,"b":16.9,"v":4.42},{"m":9,"a":16.9,"b":16.6,"v":4.25},{"m":9,"a":16.6,"b":16.4,"v":4.42},{"m":9,"a":16.4,"b":16.3,"v":5.08},{"m":9,"a":16.3,"b":16.2,"v":5.25},{"m":9,"a":16.2,"b":16,"v":5.42},
{"m":10,"a":25,"b":24.7,"v":4.58},{"m":10,"a":24.7,"b":24.6,"v":4.75},{"m":10,"a":24.6,"b":24.3,"v":4.92},{"m":10,"a":24.3,"b":24.2,"v":4.75},{"m":10,"a":24.2,"b":24.1,"v":4.42},{"m":10,"a":24.1,"b":23.6,"v":4.25},{"m":10,"a":23.6,"b":23,"v":4.08},{"m":10,"a":23,"b":22.3,"v":3.92},{"m":10,"a":22.3,"b":22.1,"v":3.58},{"m":10,"a":22.1,"b":21.1,"v":3.42},{"m":10,"a":21.1,"b":20.7,"v":3.25},{"m":10,"a":20.7,"b":20.6,"v":3.58},{"m":10,"a":20.6,"b":20.4,"v":3.75},{"m":10,"a":20.4,"b":20.2,"v":3.92},{"m":10,"a":20.2,"b":20,"v":4.08},{"m":10,"a":20,"b":19.4,"v":4.25},{"m":10,"a":19.4,"b":19.2,"v":4.42},{"m":10,"a":19.2,"b":19.1,"v":4.75},{"m":10,"a":19.1,"b":18.8,"v":5.08},{"m":10,"a":18.8,"b":18.6,"v":5.25},{"m":10,"a":18.6,"b":18.4,"v":5.08},{"m":10,"a":18.4,"b":17.7,"v":4.75},{"m":10,"a":17.7,"b":17.5,"v":4.92},{"m":10,"a":17.5,"b":17.2,"v":4.75},{"m":10,"a":17.2,"b":17,"v":4.58},{"m":10,"a":17,"b":16.9,"v":4.42},{"m":10,"a":16.9,"b":16.8,"v":4.25},{"m":10,"a":16.8,"b":16.5,"v":3.92},{"m":10,"a":16.5,"b":16.3,"v":4.25},{"m":10,"a":16.3,"b":16.1,"v":4.42},{"m":10,"a":16.1,"b":16,"v":4.25},
{"m":11,"a":25,"b":24.9,"v":5.25},{"m":11,"a":24.9,"b":24.8,"v":5.08},{"m":11,"a":24.8,"b":24.5,"v":4.92},{"m":11,"a":24.5,"b":24.4,"v":5.08},{"m":11,"a":24.4,"b":24.2,"v":5.25},{"m":11,"a":24.2,"b":24.1,"v":5.08},{"m":11,"a":24.1,"b":24,"v":4.92},{"m":11,"a":24,"b":23.4,"v":4.58},{"m":11,"a":23.4,"b":23.2,"v":4.42},{"m":11,"a":23.2,"b":23.1,"v":4.25},{"m":11,"a":23.1,"b":23,"v":4.08},{"m":11,"a":23,"b":22.5,"v":3.92},{"m":11,"a":22.5,"b":22.2,"v":3.75},{"m":11,"a":22.2,"b":21.8,"v":3.58},{"m":11,"a":21.8,"b":21.5,"v":3.75},{"m":11,"a":21.5,"b":21,"v":3.58},{"m":11,"a":21,"b":20.8,"v":3.75},{"m":11,"a":20.8,"b":20.7,"v":3.92},{"m":11,"a":20.7,"b":20.5,"v":4.25},{"m":11,"a":20.5,"b":20,"v":4.42},{"m":11,"a":20,"b":19.1,"v":4.58},{"m":11,"a":19.1,"b":18.9,"v":4.42},{"m":11,"a":18.9,"b":18.6,"v":4.25},{"m":11,"a":18.6,"b":18.4,"v":3.92},{"m":11,"a":18.4,"b":18.2,"v":3.75},{"m":11,"a":18.2,"b":18,"v":3.58},{"m":11,"a":18,"b":17.9,"v":3.25},{"m":11,"a":17.9,"b":17.7,"v":2.92},{"m":11,"a":17.7,"b":17.3,"v":3.08},{"m":11,"a":17.3,"b":17.2,"v":3.58},{"m":11,"a":17.2,"b":17,"v":3.92},{"m":11,"a":17,"b":16.8,"v":4.25},{"m":11,"a":16.8,"b":16.4,"v":4.42},{"m":11,"a":16.4,"b":16.3,"v":4.75},{"m":11,"a":16.3,"b":16.2,"v":5.08},{"m":11,"a":16.2,"b":16.1,"v":5.25},{"m":11,"a":16.1,"b":16,"v":5.75},
{"m":12,"a":25,"b":24.8,"v":3.92},{"m":12,"a":24.8,"b":23.8,"v":3.75},{"m":12,"a":23.8,"b":21.7,"v":3.58},{"m":12,"a":21.7,"b":21.2,"v":3.75},{"m":12,"a":21.2,"b":21,"v":3.92},{"m":12,"a":21,"b":20.8,"v":4.08},{"m":12,"a":20.8,"b":20.4,"v":4.25},{"m":12,"a":20.4,"b":19.5,"v":4.42},{"m":12,"a":19.5,"b":19.2,"v":4.25},{"m":12,"a":19.2,"b":19.1,"v":4.08},{"m":12,"a":19.1,"b":18.9,"v":3.92},{"m":12,"a":18.9,"b":18.8,"v":3.58},{"m":12,"a":18.8,"b":18.6,"v":3.25},{"m":12,"a":18.6,"b":18.3,"v":3.08},{"m":12,"a":18.3,"b":18.2,"v":2.92},{"m":12,"a":18.2,"b":17.8,"v":2.75},{"m":12,"a":17.8,"b":17.7,"v":2.58},{"m":12,"a":17.7,"b":17.2,"v":2.92},{"m":12,"a":17.2,"b":17,"v":3.08},{"m":12,"a":17,"b":16.8,"v":3.42},{"m":12,"a":16.8,"b":16.7,"v":3.75},{"m":12,"a":16.7,"b":16.6,"v":3.92},{"m":12,"a":16.6,"b":16.5,"v":4.25},{"m":12,"a":16.5,"b":16.4,"v":4.92},{"m":12,"a":16.4,"b":16.3,"v":5.58},{"m":12,"a":16.3,"b":16.2,"v":6.08},{"m":12,"a":16.2,"b":16.1,"v":6.42},{"m":12,"a":16.1,"b":16,"v":6.75}],
"hydTrop":[{"m":1,"alt":17.58,"lo":17.48,"hi":17.68},{"m":2,"alt":17.78,"lo":17.71,"hi":17.85},{"m":3,"alt":17.73,"lo":17.66,"hi":17.8},{"m":4,"alt":17.65,"lo":17.55,"hi":17.75},{"m":5,"alt":17.63,"lo":17.51,"hi":17.75},{"m":6,"alt":16.99,"lo":16.9,"hi":17.08},{"m":7,"alt":16.81,"lo":16.73,"hi":16.89},{"m":8,"alt":16.9,"lo":16.82,"hi":16.98},{"m":9,"alt":17,"lo":16.92,"hi":17.08},{"m":10,"alt":17.17,"lo":17.09,"hi":17.25},{"m":11,"alt":17.63,"lo":17.57,"hi":17.69},{"m":12,"alt":17.79,"lo":17.7,"hi":17.88}],
"tvmTrop":[{"m":1,"alt":17.45,"lo":17.32,"hi":17.58},{"m":2,"alt":17.3,"lo":17.23,"hi":17.37},{"m":3,"alt":17.56,"lo":17.46,"hi":17.66},{"m":4,"alt":17.3,"lo":17.15,"hi":17.45},{"m":5,"alt":17.07,"lo":16.92,"hi":17.22},{"m":6,"alt":16.43,"lo":16.35,"hi":16.51},{"m":7,"alt":16.57,"lo":16.41,"hi":16.73},{"m":8,"alt":16.74,"lo":16.61,"hi":16.87},{"m":9,"alt":16.78,"lo":16.7,"hi":16.86},{"m":10,"alt":16.9,"lo":16.8,"hi":17},{"m":11,"alt":17.11,"lo":17.01,"hi":17.21},{"m":12,"alt":17.61,"lo":17.52,"hi":17.7}],
"bar":[{"a":2,"b":2.1667,"v":2.08},{"a":2.1667,"b":2.3333,"v":2.25},{"a":2.3333,"b":2.5,"v":2.42},{"a":2.5,"b":2.6667,"v":2.58},{"a":2.6667,"b":2.8333,"v":2.75},{"a":2.8333,"b":3,"v":2.92},{"a":3,"b":3.1667,"v":3.08},{"a":3.1667,"b":3.3333,"v":3.25},{"a":3.3333,"b":3.5,"v":3.42},{"a":3.5,"b":3.6667,"v":3.58},{"a":3.6667,"b":3.8333,"v":3.75},{"a":3.8333,"b":4,"v":3.92},{"a":4,"b":4.1667,"v":4.08},{"a":4.1667,"b":4.3333,"v":4.25},{"a":4.3333,"b":4.5,"v":4.42},{"a":4.5,"b":4.6667,"v":4.58},{"a":4.6667,"b":4.8333,"v":4.75},{"a":4.8333,"b":5,"v":4.92},{"a":5,"b":5.1667,"v":5.08},{"a":5.1667,"b":5.3333,"v":5.25},{"a":5.3333,"b":5.5,"v":5.42},{"a":5.5,"b":5.6667,"v":5.58},{"a":5.6667,"b":5.8333,"v":5.75},{"a":5.8333,"b":6,"v":5.92},{"a":6,"b":6.1667,"v":6.08},{"a":6.1667,"b":6.3333,"v":6.25},{"a":6.3333,"b":6.5,"v":6.42},{"a":6.5,"b":6.6667,"v":6.58},{"a":6.6667,"b":6.8333,"v":6.75},{"a":6.8333,"b":7,"v":6.92}],
"barFrame":[{"a":2,"b":7}]
},
"hconcat":[
{"title":{"text":"Hyderabad","offset":-12},"width":339,"height":538,"layer":[
{"data":{"name":"hyd"},"mark":{"type":"rect","strokeWidth":0.4},"encoding":{"x":{"field":"m","type":"ordinal","scale":{"domain":[1,2,3,4,5,6,7,8,9,10,11,12],"paddingInner":0,"paddingOuter":0},"axis":{"title":null,"ticks":false,"domain":false,"labelAngle":0,"labelPadding":11,"labelExpr":"['F','M','A','M','J','J','A','S','O','N','D','J'][datum.value-1]"}},"y":{"field":"a","type":"quantitative","scale":{"domain":[16,25],"nice":false,"zero":false},"axis":{"title":"Altitude (km)","values":[16,17,18,19,20,21,22,23,24,25],"format":"d","grid":false,"ticks":false,"domain":false,"labelPadding":10,"titlePadding":4}},"y2":{"field":"b"},"color":{"field":"v","type":"quantitative","legend":null,"scale":{"type":"quantize","domain":[2,7],"nice":false,"zero":false,"range":["#0000a0","#0000c0","#0000e0","#0000ff","#0020ff","#0040ff","#0060ff","#0080ff","#00a0ff","#00c0ff","#00e0ff","#00ffff","#20ffe0","#40ffc0","#60ffa0","#80ff80","#a0ff60","#c0ff40","#e0ff20","#ffff00","#ffe000","#ffc000","#ffa000","#ff8000","#ff6000","#ff4000","#ff2000","#ff0000","#e00000","#c00000"]}},"stroke":{"field":"v","type":"quantitative","legend":null,"scale":{"type":"quantize","domain":[2,7],"nice":false,"zero":false,"range":["#0000a0","#0000c0","#0000e0","#0000ff","#0020ff","#0040ff","#0060ff","#0080ff","#00a0ff","#00c0ff","#00e0ff","#00ffff","#20ffe0","#40ffc0","#60ffa0","#80ff80","#a0ff60","#c0ff40","#e0ff20","#ffff00","#ffe000","#ffc000","#ffa000","#ff8000","#ff6000","#ff4000","#ff2000","#ff0000","#e00000","#c00000"]}}}},
{"data":{"name":"frame"},"mark":{"type":"rect","filled":false,"stroke":"#a0a0a0","strokeWidth":1},"encoding":{"y":{"field":"a","type":"quantitative"},"y2":{"field":"b"}}},
{"data":{"name":"hydTrop"},"mark":{"type":"line","color":"black","strokeWidth":4},"encoding":{"x":{"field":"m","type":"ordinal"},"y":{"field":"alt","type":"quantitative"}}},
{"data":{"name":"hydTrop"},"mark":{"type":"rule","color":"black","strokeWidth":3},"encoding":{"x":{"field":"m","type":"ordinal"},"y":{"field":"lo","type":"quantitative"},"y2":{"field":"hi"}}},
{"data":{"name":"hydTrop"},"mark":{"type":"tick","color":"black","size":6,"thickness":3},"encoding":{"x":{"field":"m","type":"ordinal"},"y":{"field":"lo","type":"quantitative"}}},
{"data":{"name":"hydTrop"},"mark":{"type":"tick","color":"black","size":6,"thickness":3},"encoding":{"x":{"field":"m","type":"ordinal"},"y":{"field":"hi","type":"quantitative"}}}
]},
{"title":{"text":"Trivandrum","offset":-12},"width":338,"height":538,"layer":[
{"data":{"name":"tvm"},"mark":{"type":"rect","strokeWidth":0.4},"encoding":{"x":{"field":"m","type":"ordinal","scale":{"domain":[1,2,3,4,5,6,7,8,9,10,11,12],"paddingInner":0,"paddingOuter":0},"axis":{"title":null,"ticks":false,"domain":false,"labelAngle":0,"labelPadding":11,"labelExpr":"['F','M','A','M','J','J','A','S','O','N','D','J'][datum.value-1]"}},"y":{"field":"a","type":"quantitative","scale":{"domain":[16,25],"nice":false,"zero":false},"axis":{"title":null,"values":[16,17,18,19,20,21,22,23,24,25],"format":"d","grid":false,"ticks":false,"domain":false,"labelPadding":10,"minExtent":69}},"y2":{"field":"b"},"color":{"field":"v","type":"quantitative","legend":null,"scale":{"type":"quantize","domain":[2,7],"nice":false,"zero":false,"range":["#0000a0","#0000c0","#0000e0","#0000ff","#0020ff","#0040ff","#0060ff","#0080ff","#00a0ff","#00c0ff","#00e0ff","#00ffff","#20ffe0","#40ffc0","#60ffa0","#80ff80","#a0ff60","#c0ff40","#e0ff20","#ffff00","#ffe000","#ffc000","#ffa000","#ff8000","#ff6000","#ff4000","#ff2000","#ff0000","#e00000","#c00000"]}},"stroke":{"field":"v","type":"quantitative","legend":null,"scale":{"type":"quantize","domain":[2,7],"nice":false,"zero":false,"range":["#0000a0","#0000c0","#0000e0","#0000ff","#0020ff","#0040ff","#0060ff","#0080ff","#00a0ff","#00c0ff","#00e0ff","#00ffff","#20ffe0","#40ffc0","#60ffa0","#80ff80","#a0ff60","#c0ff40","#e0ff20","#ffff00","#ffe000","#ffc000","#ffa000","#ff8000","#ff6000","#ff4000","#ff2000","#ff0000","#e00000","#c00000"]}}}},
{"data":{"name":"frame"},"mark":{"type":"rect","filled":false,"stroke":"#a0a0a0","strokeWidth":1},"encoding":{"y":{"field":"a","type":"quantitative"},"y2":{"field":"b"}}},
{"data":{"name":"tvmTrop"},"mark":{"type":"line","color":"black","strokeWidth":4},"encoding":{"x":{"field":"m","type":"ordinal"},"y":{"field":"alt","type":"quantitative"}}},
{"data":{"name":"tvmTrop"},"mark":{"type":"rule","color":"black","strokeWidth":3},"encoding":{"x":{"field":"m","type":"ordinal"},"y":{"field":"lo","type":"quantitative"},"y2":{"field":"hi"}}},
{"data":{"name":"tvmTrop"},"mark":{"type":"tick","color":"black","size":6,"thickness":3},"encoding":{"x":{"field":"m","type":"ordinal"},"y":{"field":"lo","type":"quantitative"}}},
{"data":{"name":"tvmTrop"},"mark":{"type":"tick","color":"black","size":6,"thickness":3},"encoding":{"x":{"field":"m","type":"ordinal"},"y":{"field":"hi","type":"quantitative"}}}
]},
{"title":{"text":"ppmv","fontSize":24.5,"offset":-11,"dx":3},"width":34,"height":542,"layer":[
{"data":{"name":"bar"},"mark":{"type":"rect","strokeWidth":0.4},"encoding":{"y":{"field":"a","type":"quantitative","scale":{"domain":[2,7.0466],"nice":false,"zero":false},"axis":{"orient":"right","title":null,"values":[2,3,4,5,6,7],"format":"d","grid":false,"domain":false,"tickSize":-5,"tickColor":"#555555","zindex":1,"labelPadding":10}},"y2":{"field":"b"},"color":{"field":"v","type":"quantitative","legend":null,"scale":{"type":"quantize","domain":[2,7],"nice":false,"zero":false,"range":["#0000a0","#0000c0","#0000e0","#0000ff","#0020ff","#0040ff","#0060ff","#0080ff","#00a0ff","#00c0ff","#00e0ff","#00ffff","#20ffe0","#40ffc0","#60ffa0","#80ff80","#a0ff60","#c0ff40","#e0ff20","#ffff00","#ffe000","#ffc000","#ffa000","#ff8000","#ff6000","#ff4000","#ff2000","#ff0000","#e00000","#c00000"]}},"stroke":{"field":"v","type":"quantitative","legend":null,"scale":{"type":"quantize","domain":[2,7],"nice":false,"zero":false,"range":["#0000a0","#0000c0","#0000e0","#0000ff","#0020ff","#0040ff","#0060ff","#0080ff","#00a0ff","#00c0ff","#00e0ff","#00ffff","#20ffe0","#40ffc0","#60ffa0","#80ff80","#a0ff60","#c0ff40","#e0ff20","#ffff00","#ffe000","#ffc000","#ffa000","#ff8000","#ff6000","#ff4000","#ff2000","#ff0000","#e00000","#c00000"]}}}},
{"data":{"name":"barFrame"},"mark":{"type":"rect","filled":false,"stroke":"#909090","strokeWidth":1},"encoding":{"y":{"field":"a","type":"quantitative"},"y2":{"field":"b"}}}
]}
]}
